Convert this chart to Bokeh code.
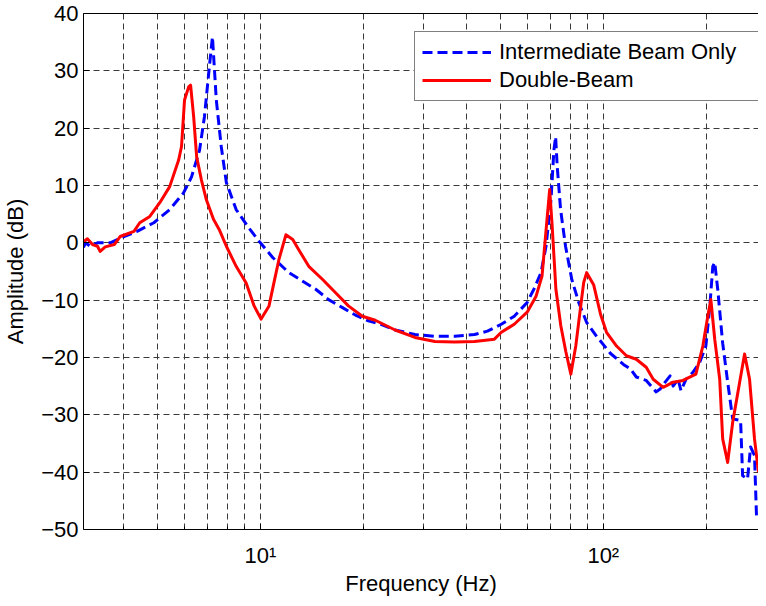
from bokeh.plotting import figure
from bokeh.models import Range1d, FixedTicker, LogAxis, Legend
from bokeh.embed import file_html
from bokeh.resources import INLINE

# Intermediate Beam Only (blue dashed)
freq_single = [3.05, 3.09, 3.19, 3.35, 3.65, 4.0, 4.37, 4.89, 5.44, 5.97, 6.30, 6.65, 6.87, 7.10, 7.25,
               7.31, 7.44, 7.69, 7.96, 8.50, 9.28, 10.0, 10.88, 12.11, 13.29, 14.50, 15.81, 17.36, 18.93,
               20.64, 22.66, 24.71, 28.23, 32.27, 36.87, 42.12, 45.94, 50.42, 55.0, 59.97, 62.84, 65.84,
               68.07, 70.38, 71.78, 72.61, 73.39, 75.07, 77.61, 80.94, 84.79, 89.45, 95.61, 104.97,
               114.46, 119.94, 124.82, 133.4, 142.6, 146.5, 151.5, 156.6, 159.8, 165.2, 168.5, 174.2,
               182.5, 191.2, 199.1, 204.5, 208.6, 211.3, 215.6, 222.9, 230.5, 238.4, 251.4, 254.8,
               263.4, 268.8, 276.0, 279.7, 283.5]
amp_single = [-0.8, 0.0, -0.6, 0.0, 0.0, 1.1, 2.0, 3.5, 5.8, 8.7, 11.5, 16.2, 22.0, 30.7, 35.9,
              32.4, 24.9, 16.8, 10.5, 5.8, 2.5, 0.0, -2.6, -5.2, -6.7, -8.1, -9.9, -11.3, -12.6,
              -13.6, -14.3, -15.2, -16.0, -16.3, -16.3, -16.0, -15.4, -14.2, -12.8, -10.4, -8.0, -5.2,
              -0.6, 7.5, 16.2, 18.5, 13.3, 5.8, -0.6, -6.4, -10.4, -13.9, -16.3, -19.3,
              -21.2, -22.0, -23.4, -24.0, -26.0, -25.5, -24.3, -23.2, -25.0, -23.8, -25.8, -23.8,
              -22.6, -20.8, -18.0, -11.0, -4.1, -3.4, -8.1, -17.5, -24.3, -30.7, -31.0, -40.6,
              -41.2, -35.6, -37.1, -47.6, -48.0]

# Double-Beam (red solid)
freq_double = [3.05, 3.13, 3.24, 3.35, 3.41, 3.53, 3.75, 3.90, 4.28, 4.45, 4.76, 5.09, 5.44, 5.78,
               5.89, 6.01, 6.18, 6.26, 6.39, 6.52, 6.73, 6.96, 7.30, 7.59, 7.96, 8.50, 9.09, 9.59,
               10.05, 10.60, 10.96, 11.33, 11.87, 12.43, 12.94, 13.84, 15.19, 16.57, 18.06, 19.83,
               21.63, 24.71, 28.23, 32.27, 36.87, 42.12, 48.13, 50.42, 55.0, 59.97, 63.68, 66.27,
               68.51, 69.76, 70.85, 72.74, 75.20, 77.77, 80.41, 83.13, 85.94, 87.68, 89.45, 93.71,
               98.2, 102.2, 109.3, 116.8, 124.8, 133.4, 139.8, 149.5, 159.8, 170.8, 186.2, 195.1,
               201.7, 205.9, 211.3, 218.5, 222.9, 230.5, 238.4, 249.8, 258.2, 267.0, 276.0, 283.5]
amp_double = [0.2, 0.7, -0.3, -0.6, -1.5, -0.7, -0.3, 1.1, 2.0, 3.5, 4.6, 7.0, 9.8, 14.5,
              16.8, 24.9, 27.2, 27.5, 22.0, 15.0, 11.0, 7.5, 4.1, 2.3, -0.6, -4.1, -7.0, -11.0,
              -13.3, -11.0, -6.9, -2.9, 1.4, 0.6, -1.2, -4.1, -6.4, -8.7, -11.0, -12.8,
              -13.5, -15.2, -16.5, -17.2, -17.3, -17.2, -16.8, -15.6, -14.2, -12.1, -9.3, -5.8,
              4.0, 9.3, 3.5, -8.1, -14.5, -19.0, -22.9, -18.0, -11.0, -6.9, -5.2, -7.3,
              -12.5, -15.6, -18.0, -19.7, -20.3, -21.7, -23.8, -25.2, -24.3, -24.0, -22.9, -18.0,
              -12.8, -9.9, -16.8, -23.8, -34.2, -38.3, -31.3, -24.3, -19.4, -23.8, -34.2, -40.0]

x_major = [10, 100]
x_minor = [3, 4, 5, 6, 7, 8, 9, 20, 30, 40, 50, 60, 70, 80, 90, 200, 300]
x_labels = {10: "10¹", 100: "10²"}
y_ticks = [-50, -40, -30, -20, -10, 0, 10, 20, 30, 40]
series_names = ["Intermediate Beam Only", "Double-Beam"]

FONT = "Liberation Sans"
FS = "22px"
GRID = "#3a3a3a"

p = figure(width=758, height=598, x_axis_type="log",
           x_range=Range1d(3.05, 283.5), y_range=Range1d(-50, 40),
           output_backend="svg", toolbar_location=None,
           min_border_left=78, min_border_right=0, min_border_top=13, min_border_bottom=60)
p.background_fill_color = "white"
p.border_fill_color = "white"
p.outline_line_color = None

r1 = p.line(freq_single, amp_single, line_color="#0000ff", line_width=3, line_dash="10 5",
            line_join="round")
r2 = p.line(freq_double, amp_double, line_color="#ff0000", line_width=3, line_join="round")

# x axis
xa = p.xaxis[0]
xa.ticker = FixedTicker(ticks=x_major, minor_ticks=x_minor)
xa.major_label_overrides = x_labels
xa.axis_label = "Frequency (Hz)"
xa.major_tick_in = 6
xa.major_tick_out = 0
xa.minor_tick_in = 3
xa.minor_tick_out = 0
xa.major_label_standoff = 13
xa.axis_label_standoff = 0

# y axis
ya = p.yaxis[0]
ya.ticker = FixedTicker(ticks=y_ticks)
ya.axis_label = "Amplitude (dB)"
ya.major_tick_in = 6
ya.major_tick_out = 0
ya.minor_tick_in = 0
ya.minor_tick_out = 0
ya.major_label_standoff = 5
ya.axis_label_standoff = 10

for ax in (xa, ya):
    ax.major_label_text_font = FONT
    ax.major_label_text_font_size = FS
    ax.major_label_text_color = "black"
    ax.axis_label_text_font = FONT
    ax.axis_label_text_font_size = FS
    ax.axis_label_text_font_style = "normal"
    ax.axis_label_text_color = "black"
    ax.axis_line_color = "black"
    ax.major_tick_line_color = "black"
    ax.minor_tick_line_color = "black"

# top border line
top = LogAxis(ticker=FixedTicker(ticks=[], minor_ticks=[]), major_label_text_font_size="0px",
              major_tick_in=0, major_tick_out=0, minor_tick_in=0, minor_tick_out=0,
              major_label_standoff=0, axis_line_color="black")
p.add_layout(top, "above")

# grids
p.xgrid.grid_line_color = GRID
p.xgrid.grid_line_dash = "6 4"
p.xgrid.minor_grid_line_color = GRID
p.xgrid.minor_grid_line_dash = "6 4"
p.ygrid.grid_line_color = GRID
p.ygrid.grid_line_dash = "6 4"

legend = Legend(items=[(series_names[0], [r1]), (series_names[1], [r2])],
                location=(331, 428), orientation="vertical")
legend.label_text_font = FONT
legend.label_text_font_size = FS
legend.label_text_color = "black"
legend.glyph_width = 69
legend.glyph_height = 24
legend.label_height = 24
legend.label_width = 255
legend.label_standoff = 8
legend.padding = 7
legend.spacing = 2
legend.margin = 0
legend.border_line_color = "black"
legend.border_line_width = 1
legend.background_fill_color = "white"
legend.background_fill_alpha = 1.0
p.add_layout(legend)

open("out.html", "w").write(file_html(p, INLINE))
